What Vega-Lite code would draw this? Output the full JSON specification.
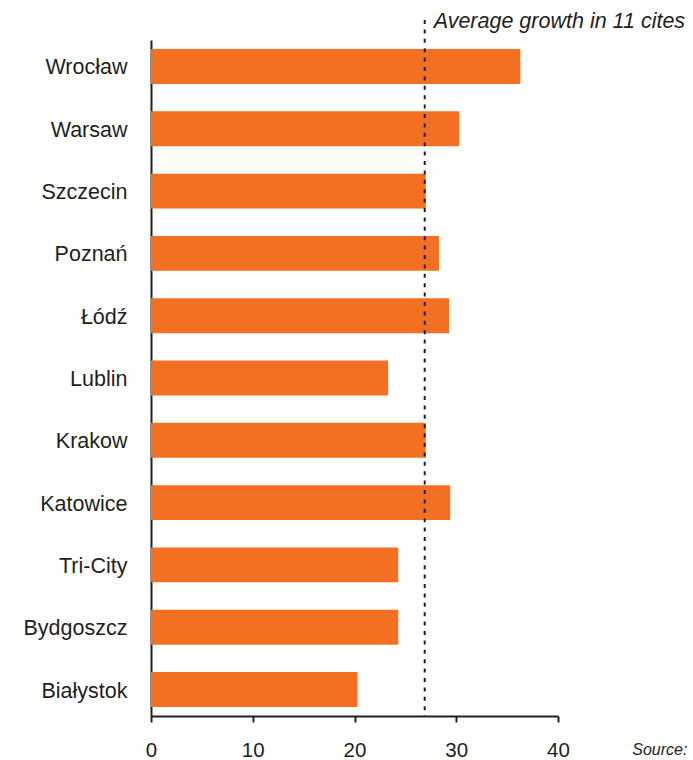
{
  "$schema": "https://vega.github.io/schema/vega-lite/v6.json",
  "autosize": {"type": "none"},
  "width": 407,
  "height": 676,
  "padding": {"left": 151, "top": 40, "right": 135, "bottom": 44},
  "background": "white",
  "config": {
    "view": {"stroke": null},
    "font": "Liberation Sans"
  },
  "datasets": {
    "cities": [
      {"city": "Wrocław", "growth": 36.3},
      {"city": "Warsaw", "growth": 30.3},
      {"city": "Szczecin", "growth": 27.0},
      {"city": "Poznań", "growth": 28.3},
      {"city": "Łódź", "growth": 29.3},
      {"city": "Lublin", "growth": 23.3},
      {"city": "Krakow", "growth": 27.0},
      {"city": "Katowice", "growth": 29.4},
      {"city": "Tri-City", "growth": 24.3},
      {"city": "Bydgoszcz", "growth": 24.3},
      {"city": "Białystok", "growth": 20.3}
    ],
    "avg": [{"avg": 26.9, "label": "Average growth in 11 cites"}],
    "src": [{"x": 47.3, "label": "Source:"}]
  },
  "layer": [
    {
      "data": {"name": "cities"},
      "mark": {"type": "bar", "color": "#F37022"},
      "encoding": {
        "y": {
          "field": "city",
          "type": "nominal",
          "sort": null,
          "scale": {"paddingInner": 0.44, "paddingOuter": 0.145},
          "axis": {
            "title": null,
            "ticks": false,
            "labelPadding": 24,
            "labelFontSize": 21.5,
            "labelColor": "#231F20",
            "labelOffset": 2,
            "domainColor": "#231F20",
            "domainWidth": 2
          }
        },
        "x": {
          "field": "growth",
          "type": "quantitative",
          "scale": {"domain": [0, 40], "nice": false},
          "axis": {
            "title": null,
            "values": [0, 10, 20, 30, 40],
            "grid": false,
            "labelFlush": false,
            "tickSize": 6,
            "tickWidth": 2,
            "tickColor": "#231F20",
            "labelPadding": 18,
            "labelFontSize": 20.5,
            "labelColor": "#231F20",
            "domainColor": "#231F20",
            "domainWidth": 2
          }
        }
      }
    },
    {
      "data": {"name": "avg"},
      "mark": {"type": "rule", "color": "#231F20", "strokeWidth": 2, "strokeDash": [4, 5.4]},
      "encoding": {
        "x": {"field": "avg", "type": "quantitative"},
        "y": {"value": -20},
        "y2": {"value": 676}
      }
    },
    {
      "data": {"name": "avg"},
      "mark": {"type": "text", "align": "left", "baseline": "alphabetic", "dx": 9, "fontSize": 21.5, "fontStyle": "italic", "color": "#231F20"},
      "encoding": {
        "x": {"field": "avg", "type": "quantitative"},
        "y": {"value": -12},
        "text": {"field": "label"}
      }
    },
    {
      "data": {"name": "src"},
      "mark": {"type": "text", "align": "left", "baseline": "alphabetic", "fontSize": 16, "fontStyle": "italic", "color": "#231F20"},
      "encoding": {
        "x": {"field": "x", "type": "quantitative"},
        "y": {"value": 715},
        "text": {"field": "label"}
      }
    }
  ]
}
